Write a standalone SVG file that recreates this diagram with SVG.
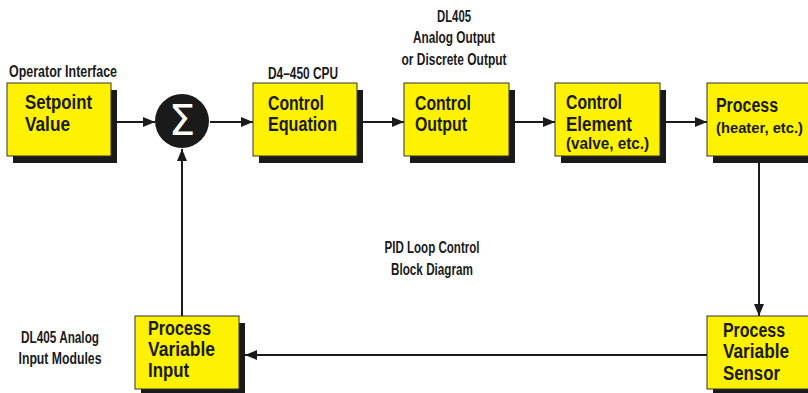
<svg xmlns="http://www.w3.org/2000/svg" width="808" height="393" viewBox="0 0 808 393">
<style>
.box{fill:#FFF200;stroke:#333;stroke-width:1}
.sh{fill:#1a1a1a}
.t{font-family:"Liberation Sans",Arial,sans-serif;font-weight:bold;font-size:20px;fill:#1a1a1a}
.s{font-family:"Liberation Sans",Arial,sans-serif;font-weight:bold;font-size:16px;fill:#1a1a1a}
.l{font-family:"Liberation Sans",Arial,sans-serif;font-weight:bold;font-size:16px;fill:#1a1a1a}
.c{stroke:#1a1a1a;stroke-width:2;fill:none}
</style>
<defs>
<marker id="ah" viewBox="0 0 12 10" refX="12" refY="5" markerWidth="12" markerHeight="10" markerUnits="userSpaceOnUse" orient="auto">
<path d="M0,0 L12,5 L0,10 Z" fill="#1a1a1a"/>
</marker>
</defs>
<rect width="808" height="393" fill="#fff"/>
<g id="connectors">
<line class="c" x1="117" y1="122" x2="155" y2="122" marker-end="url(#ah)"/>
<line class="c" x1="210" y1="122" x2="253" y2="122" marker-end="url(#ah)"/>
<line class="c" x1="363" y1="122" x2="404" y2="122" marker-end="url(#ah)"/>
<line class="c" x1="515" y1="122" x2="555" y2="122" marker-end="url(#ah)"/>
<line class="c" x1="666" y1="122" x2="707" y2="122" marker-end="url(#ah)"/>
<line class="c" x1="759" y1="163" x2="759" y2="316" marker-end="url(#ah)"/>
<line class="c" x1="707" y1="355" x2="245" y2="355" marker-end="url(#ah)"/>
<line class="c" x1="182" y1="316" x2="182" y2="149" marker-end="url(#ah)"/>
</g>
<g id="setpoint">
<rect class="sh" x="13" y="90" width="104" height="73"/>
<rect class="box" x="7" y="83" width="104" height="73"/>
<text class="l" x="9" y="77" textLength="108" lengthAdjust="spacingAndGlyphs">Operator Interface</text>
<text class="t" x="25" y="109" textLength="67" lengthAdjust="spacingAndGlyphs">Setpoint</text>
<text class="t" x="25" y="131" textLength="45" lengthAdjust="spacingAndGlyphs">Value</text>
</g>
<g id="sum">
<circle cx="182" cy="121" r="27" fill="#1a1a1a"/>
<text x="182" y="135" text-anchor="middle" font-family="DejaVu Sans,sans-serif" font-size="42" fill="#fff">Σ</text>
</g>
<g id="control-equation">
<rect class="sh" x="259" y="90" width="104" height="73"/>
<rect class="box" x="253" y="83" width="104" height="73"/>
<text class="l" x="268" y="79" textLength="70" lengthAdjust="spacingAndGlyphs">D4–450 CPU</text>
<text class="t" x="268" y="110" textLength="56" lengthAdjust="spacingAndGlyphs">Control</text>
<text class="t" x="268" y="131" textLength="69" lengthAdjust="spacingAndGlyphs">Equation</text>
</g>
<g id="control-output">
<rect class="sh" x="410" y="90" width="105" height="73"/>
<rect class="box" x="404" y="83" width="105" height="73"/>
<text class="l" x="454" y="22" text-anchor="middle" textLength="34" lengthAdjust="spacingAndGlyphs">DL405</text>
<text class="l" x="454" y="43" text-anchor="middle" textLength="82" lengthAdjust="spacingAndGlyphs">Analog Output</text>
<text class="l" x="454" y="65" text-anchor="middle" textLength="105" lengthAdjust="spacingAndGlyphs">or Discrete Output</text>
<text class="t" x="415" y="110" textLength="56" lengthAdjust="spacingAndGlyphs">Control</text>
<text class="t" x="415" y="131" textLength="52" lengthAdjust="spacingAndGlyphs">Output</text>
</g>
<g id="control-element">
<rect class="sh" x="561" y="90" width="105" height="73"/>
<rect class="box" x="555" y="83" width="105" height="73"/>
<text class="t" x="566" y="109" textLength="56" lengthAdjust="spacingAndGlyphs">Control</text>
<text class="t" x="566" y="131" textLength="66" lengthAdjust="spacingAndGlyphs">Element</text>
<text class="s" x="566" y="149" textLength="83" lengthAdjust="spacingAndGlyphs">(valve, etc.)</text>
</g>
<g id="process">
<rect class="sh" x="713" y="90" width="110" height="73"/>
<rect class="box" x="707" y="83" width="110" height="73"/>
<text class="t" x="716" y="112" textLength="62" lengthAdjust="spacingAndGlyphs">Process</text>
<text class="s" x="716" y="133" font-size="14.5" style="font-size:14.5px" textLength="87" lengthAdjust="spacingAndGlyphs">(heater, etc.)</text>
</g>
<g id="pid-title">
<text class="l" x="432" y="253" text-anchor="middle" textLength="95" lengthAdjust="spacingAndGlyphs">PID Loop Control</text>
<text class="l" x="432" y="275" text-anchor="middle" textLength="82" lengthAdjust="spacingAndGlyphs">Block Diagram</text>
</g>
<g id="pv-input">
<rect class="sh" x="141" y="323" width="104" height="73"/>
<rect class="box" x="135" y="316" width="104" height="73"/>
<text class="l" x="60" y="343" text-anchor="middle" textLength="78" lengthAdjust="spacingAndGlyphs">DL405 Analog</text>
<text class="l" x="60" y="364" text-anchor="middle" textLength="83" lengthAdjust="spacingAndGlyphs">Input Modules</text>
<text class="t" x="148" y="335" textLength="63" lengthAdjust="spacingAndGlyphs">Process</text>
<text class="t" x="148" y="356" textLength="67" lengthAdjust="spacingAndGlyphs">Variable</text>
<text class="t" x="148" y="377" textLength="41" lengthAdjust="spacingAndGlyphs">Input</text>
</g>
<g id="pv-sensor">
<rect class="sh" x="713" y="323" width="110" height="73"/>
<rect class="box" x="707" y="316" width="110" height="73"/>
<text class="t" x="723" y="337" textLength="62" lengthAdjust="spacingAndGlyphs">Process</text>
<text class="t" x="723" y="358" textLength="66" lengthAdjust="spacingAndGlyphs">Variable</text>
<text class="t" x="723" y="380" textLength="57" lengthAdjust="spacingAndGlyphs">Sensor</text>
</g>
</svg>
